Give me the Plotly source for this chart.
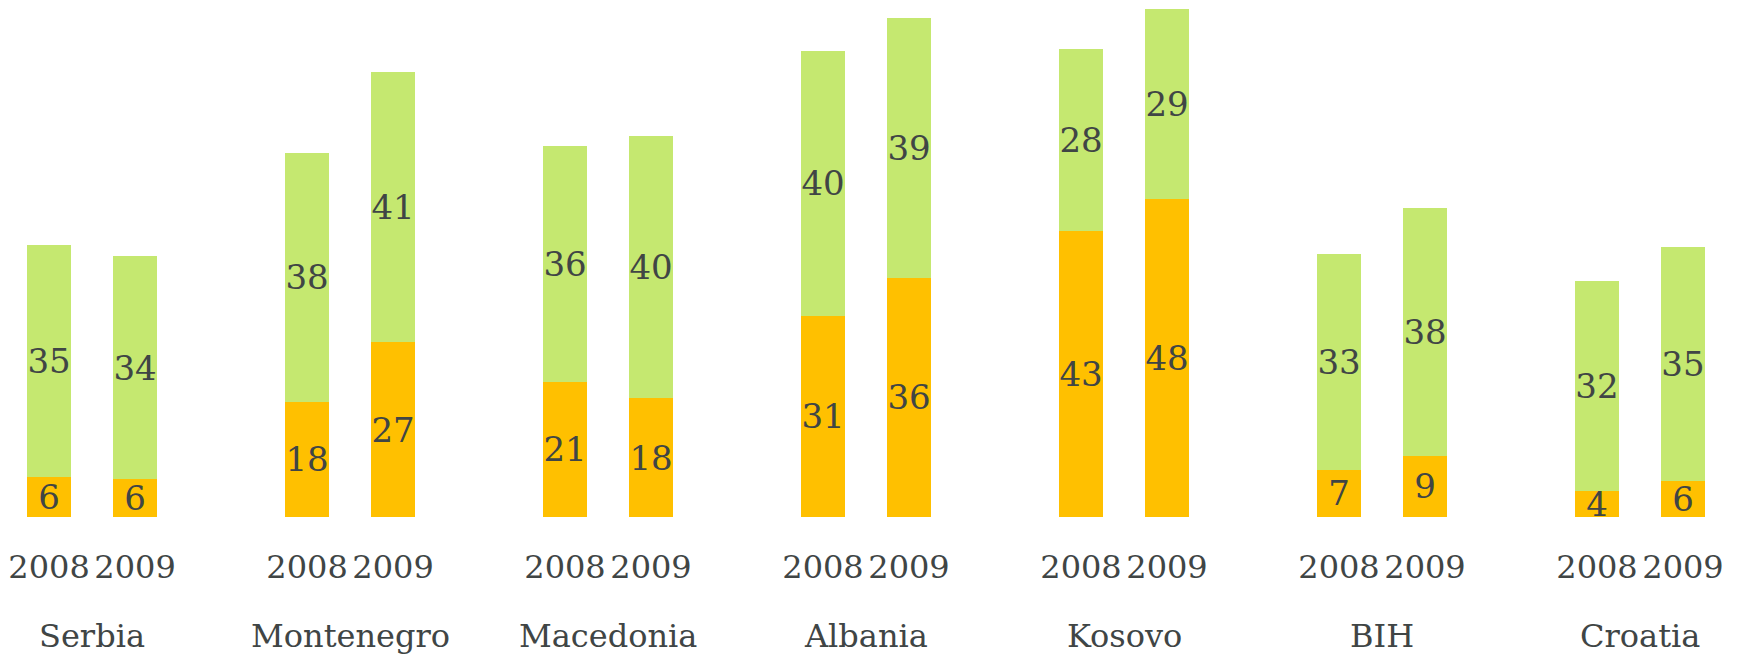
import plotly.graph_objects as go

# ==== data ====
countries = ["Serbia", "Montenegro", "Macedonia", "Albania", "Kosovo", "BIH", "Croatia"]
years = ["2008", "2009"]
# bottom (orange) segment, per country: [2008, 2009]
orange_values = [[6.1, 5.7], [17.5, 26.5], [20.5, 18.0], [30.5, 36.3], [43.3, 48.2], [7.2, 9.3], [4.0, 5.5]]
# top (green) segment, per country: [2008, 2009]
green_values = [[35.1, 33.9], [37.7, 41.0], [35.7, 39.7], [40.2, 39.4], [27.7, 28.8], [32.6, 37.6], [31.8, 35.4]]
# numbers printed on the segments
orange_labels = [[6, 6], [18, 27], [21, 18], [31, 36], [43, 48], [7, 9], [4, 6]]
green_labels = [[35, 34], [38, 41], [36, 40], [40, 39], [28, 29], [33, 38], [32, 35]]

ORANGE = "#FFC000"
GREEN = "#C5E870"
TEXT = "#404545"
FONT = "DejaVu Serif"

# each country takes three slots: two bars and a gap
x_pos = []
x_text = []
for g, _ in enumerate(countries):
    for j, year in enumerate(years):
        x_pos.append(3 * g + j)
        x_text.append(year)


def flat(rows):
    return [v for pair in rows for v in pair]


fig = go.Figure()
for values, labels, colour in (
    (orange_values, orange_labels, ORANGE),
    (green_values, green_labels, GREEN),
):
    fig.add_trace(
        go.Bar(
            x=x_pos,
            y=flat(values),
            width=0.51,
            marker=dict(color=colour, line=dict(width=0)),
            text=[str(v) for v in flat(labels)],
            textposition="inside",
            insidetextanchor="middle",
            textangle=0,
            constraintext="none",
            textfont=dict(family=FONT, size=34, color=TEXT),
            hoverinfo="skip",
        )
    )

for g, name in enumerate(countries):
    fig.add_annotation(
        x=3 * g + 0.5,
        y=-0.234,
        xref="x",
        yref="paper",
        text=name,
        showarrow=False,
        yanchor="middle",
        font=dict(family=FONT, size=32, color=TEXT),
    )

# the page adds an 8px body margin, so the figure is sized to fit inside the window
fig.update_layout(
    barmode="stack",
    width=1729,
    height=647,
    margin=dict(l=0, r=0, t=0, b=138),
    paper_bgcolor="white",
    plot_bgcolor="white",
    showlegend=False,
    xaxis=dict(
        range=[-0.477, 19.628],
        tickvals=x_pos,
        ticktext=x_text,
        tickfont=dict(family=FONT, size=32, color=TEXT),
        ticklabelstandoff=28,
        showgrid=False,
        zeroline=False,
        showline=False,
        ticks="",
    ),
    yaxis=dict(
        range=[0, 77.15],
        visible=False,
        showgrid=False,
        zeroline=False,
    ),
)

fig.write_html("out.html")
